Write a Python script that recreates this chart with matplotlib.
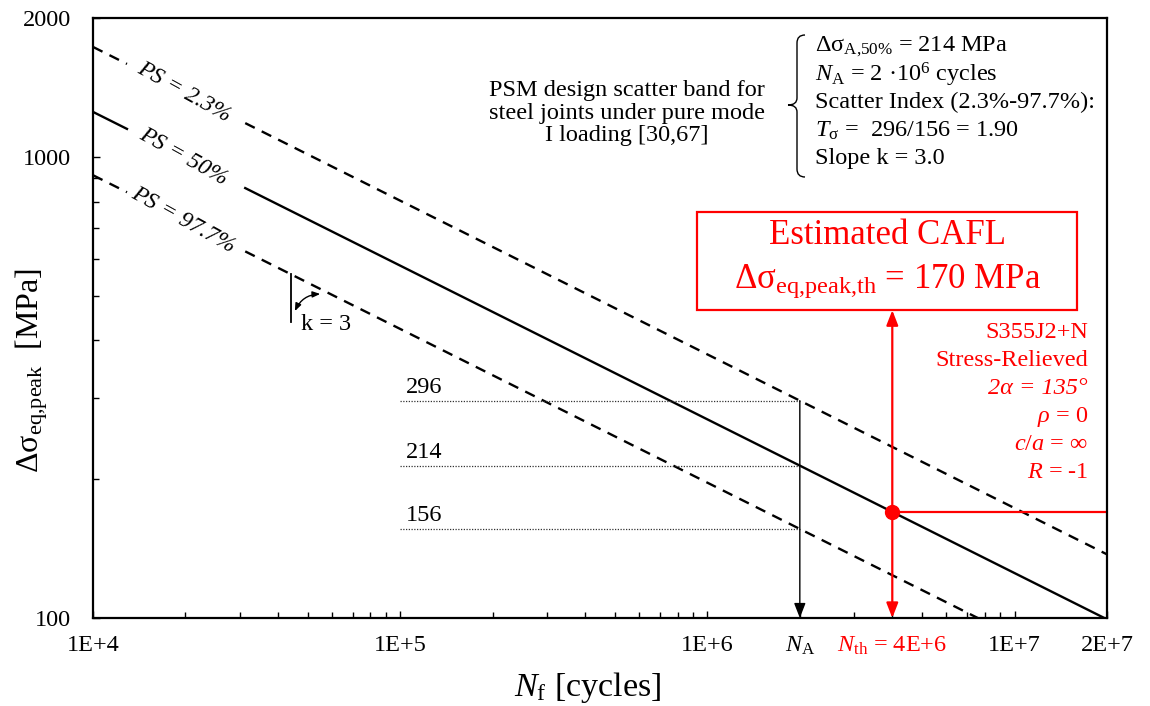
import numpy as np
import matplotlib
matplotlib.use("Agg")
import matplotlib.pyplot as plt
from matplotlib.patches import Rectangle
from matplotlib.path import Path
from matplotlib.patches import PathPatch

plt.rcParams['font.family'] = ['Liberation Serif', 'DejaVu Serif']
plt.rcParams['mathtext.fontset'] = 'custom'
plt.rcParams['mathtext.rm'] = 'Liberation Serif'
plt.rcParams['mathtext.it'] = 'Liberation Serif:italic'
plt.rcParams['mathtext.bf'] = 'Liberation Serif:bold'

# ---- data ----
N_A = 2e6
slope_k = 3.0
ps_labels = ['PS = 2.3%', 'PS = 50%', 'PS = 97.7%']
ps_stress_A = [296, 214, 156]          # stress at N_A (MPa)
ps_styles = ['dashed', 'solid', 'dashed']
N_min, N_max = 1e4, 2e7
S_min, S_max = 100, 2000
N_th = 4e6
S_th = 170
x_ticks = [1e4, 1e5, 1e6, 2e6, 4e6, 1e7, 2e7]
x_ticklabels = ['1E+4', '1E+5', '1E+6', r'$N_{\mathrm{A}}$', r'$N_{\mathrm{th}}$ = 4E+6', '1E+7', '2E+7']
x_tick_red = [False, False, False, False, True, False, False]
y_ticks = [100, 1000, 2000]
y_ticklabels = ['100', '1000', '2000']
label_gap = (1.29e4, 3.13e4)
label_pos_N = 1.97e4

RED = '#FF0000'
FS = 17.5

fig = plt.figure(figsize=(11.5, 7.06), dpi=100)
ax = fig.add_axes([93/1150, 1-618/706, 1014/1150, 600/706])
ax.set_xscale('log')
ax.set_yscale('log')
ax.set_xlim(N_min, N_max)
ax.set_ylim(S_min, S_max)


def S_of_N(N, SA):
    return SA * (N / N_A) ** (-1.0 / slope_k)


def N_of_S(S, SA):
    return N_A * (S / SA) ** (-slope_k)


# ---- scatter band lines with label gaps ----
for lab, SA, st in zip(ps_labels, ps_stress_A, ps_styles):
    n_end = min(N_max, N_of_S(S_min, SA))
    segs = [np.geomspace(N_min, label_gap[0], 20), np.geomspace(label_gap[1], n_end, 50)]
    for seg in segs:
        if st == 'dashed':
            ax.plot(seg, S_of_N(seg, SA), color='black', lw=1.7,
                    linestyle=(0, (4.5, 3.3)), solid_capstyle='butt', clip_on=True)
        else:
            ax.plot(seg, S_of_N(seg, SA), color='black', lw=1.7, clip_on=True)
    ax.text(label_pos_N, S_of_N(label_pos_N, SA), lab, rotation=-29, style='italic',
            ha='center', va='center', rotation_mode='anchor', fontsize=17)

# ---- dotted reference lines at N_A ----
for SA in ps_stress_A:
    ax.plot([1e5, N_A], [SA, SA], color='#333333', lw=0.9, linestyle=(0, (1, 1.2)))
    ax.text(1.045e5, SA * 1.015, str(SA), ha='left', va='bottom', fontsize=FS)

# vertical arrow at N_A
ax.annotate('', xy=(N_A, S_min), xytext=(N_A, ps_stress_A[0]),
            arrowprops=dict(arrowstyle='-|>,head_length=0.9,head_width=0.35',
                            color='black', lw=1.0, shrinkA=0, shrinkB=0))

# ---- k = 3 marker ----
Nk = 4.41e4
Sk = S_of_N(Nk, ps_stress_A[2])
ax.plot([Nk, Nk], [Sk, 438], color='black', lw=1.3)
Nk2 = Nk * 1.245
ax.annotate('', xy=(Nk * 1.03, 463), xytext=(Nk2, S_of_N(Nk2, ps_stress_A[2]) * 0.975),
            arrowprops=dict(arrowstyle='<|-|>,head_length=0.45,head_width=0.18',
                            color='black', lw=1.0, shrinkA=0, shrinkB=0,
                            connectionstyle='arc3,rad=0.3'))
ax.text(Nk * 1.08, 432, 'k = 3', ha='left', va='center', fontsize=FS)

# ---- estimated CAFL (red) ----
box_N = (9.27e5, 1.60e7)
box_S = (465, 759)
ax.add_patch(Rectangle((box_N[0], box_S[0]), box_N[1] - box_N[0], box_S[1] - box_S[0],
                       fill=False, edgecolor=RED, lw=1.6, zorder=5))
Nc = np.sqrt(box_N[0] * box_N[1])
ax.text(Nc, 676, 'Estimated CAFL', color=RED, fontsize=25, ha='center', va='center')
ax.text(Nc, 538, 'Δσ$_{\\mathrm{eq{,}peak{,}th}}$ = 170 MPa', color=RED, fontsize=25,
        ha='center', va='center')

ax.annotate('', xy=(N_th, S_min), xytext=(N_th, box_S[0]),
            arrowprops=dict(arrowstyle='<|-|>,head_length=0.9,head_width=0.35',
                            color=RED, lw=1.6, shrinkA=0, shrinkB=0))
ax.plot([N_th, N_max], [S_th, S_th], color=RED, lw=1.6)
ax.plot([N_th], [S_th], 'o', color=RED, markersize=10, zorder=6)

red_lines = ['S355J2+N', 'Stress-Relieved', '2α = 135°', r'$ρ$ = 0', r'$c/a$ = ∞', r'$R$ = -1']
for i, t in enumerate(red_lines):
    style = 'italic' if i == 2 else 'normal'
    ax.text((1088 - 93) / 1014, (618 - (333 + 28 * i)) / 600, t, color=RED, fontsize=FS,
            ha='right', va='center', transform=ax.transAxes, style=style)

# ---- annotation text (top) ----
ax.text((627 - 93) / 1014, (618 - 113) / 600,
        'PSM design scatter band for\nsteel joints under pure mode\nI loading [30,67]',
        ha='center', va='center', fontsize=FS, linespacing=1.12, transform=ax.transAxes)

info = ['Δσ$_{\\mathrm{A{,}50\\%}}$ = 214 MPa',
        r'$N_{\mathrm{A}}$ = 2 ·10$^{6}$ cycles',
        'Scatter Index (2.3%-97.7%):',
        r'$T_{\mathrm{σ}}$ =  296/156 = 1.90',
        'Slope k = 3.0']
for i, t in enumerate(info):
    ax.text((815 - 93) / 1014, (618 - (47 + 27.8 * i)) / 600, t, ha='left', va='center',
            fontsize=FS, transform=ax.transAxes)

# brace
def px(x, y):
    return ((x - 93) / 1014, (618 - y) / 600)

verts = [px(805, 35), px(797, 35), px(797, 43),
         px(797, 98),
         px(797, 105), px(788, 105),
         px(797, 105), px(797, 112),
         px(797, 169),
         px(797, 177), px(805, 177)]
codes = [Path.MOVETO, Path.CURVE3, Path.CURVE3,
         Path.LINETO,
         Path.CURVE3, Path.CURVE3,
         Path.CURVE3, Path.CURVE3,
         Path.LINETO,
         Path.CURVE3, Path.CURVE3]
ax.add_patch(PathPatch(Path(verts, codes), transform=ax.transAxes, fill=False,
                       edgecolor='black', lw=1.0, clip_on=False))

# ---- axes formatting ----
ax.set_xticks(x_ticks)
ax.set_xticklabels(x_ticklabels)
ax.set_yticks(y_ticks)
ax.set_yticklabels(y_ticklabels)
for lbl, red in zip(ax.get_xticklabels(), x_tick_red):
    if red:
        lbl.set_color(RED)
ax.tick_params(axis='both', which='major', direction='in', length=5, width=1.0,
               labelsize=FS, top=False, right=False)
ax.tick_params(axis='x', which='major', pad=12)
ax.tick_params(axis='y', which='major', pad=16)
ax.tick_params(axis='both', which='minor', direction='in', length=4, width=1.0,
               top=False, right=False)
ax.yaxis.set_minor_formatter(matplotlib.ticker.NullFormatter())
ax.xaxis.set_minor_formatter(matplotlib.ticker.NullFormatter())
for sp in ax.spines.values():
    sp.set_linewidth(1.6)

ax.set_xlabel(r'$N_{\mathrm{f}}$ [cycles]', fontsize=24.5)
ax.set_ylabel('Δσ$_{\\mathrm{eq{,}peak}}$  [MPa]', fontsize=23)
ax.xaxis.set_label_coords((588 - 93) / 1014, (618 - 670) / 600)
ax.yaxis.set_label_coords((50 - 93) / 1014, (618 - 370) / 600)

fig.savefig('out.png', dpi=100)
